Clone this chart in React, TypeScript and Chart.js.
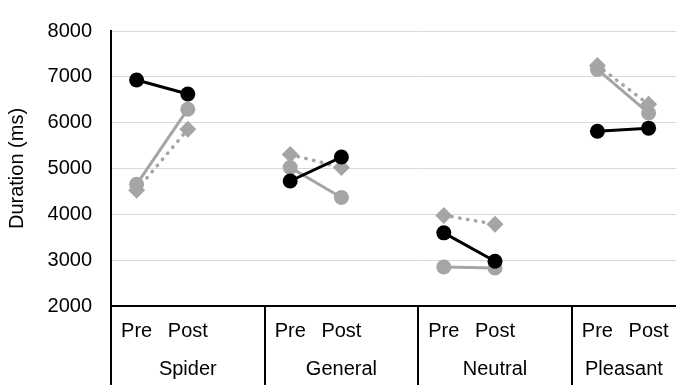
import { useEffect, useRef } from 'react';
import { Chart, registerables } from 'chart.js';

Chart.register(...registerables);

const groups = ['Spider', 'General', 'Neutral', 'Pleasant'];
const phases = ['Pre', 'Post'];
const seriesBlack = [6930, 6625, 4727, 5250, 3596, 2975, 5814, 5880];
const seriesGrayCircle = [4655, 6294, 5023, 4366, 2850, 2830, 7163, 6210];
const seriesGrayDiamond = [4528, 5856, 5305, 5023, 3977, 3786, 7248, 6400];
const yMin = 2000;
const yMax = 8000;
const yStep = 1000;
const yTitle = 'Duration (ms)';

const FONT = "'Liberation Sans', Arial, sans-serif";
const VIEW_W = 676;
const VIEW_H = 385;
const CANVAS_W = 740;

// each group: Pre, Post, then an empty gap slot
const labels: string[] = [];
groups.forEach(() => {
  phases.forEach((p) => labels.push(p));
  labels.push('');
});

function expand(values: number[]): (number | null)[] {
  const out: (number | null)[] = [];
  groups.forEach((_, g) => {
    phases.forEach((_, p) => out.push(values[g * phases.length + p]));
    out.push(null);
  });
  return out;
}

const categoryAxisPlugin = {
  id: 'categoryAxis',
  afterDraw(chart: any) {
    const { ctx, chartArea, scales } = chart;
    const { left, right, bottom } = chartArea;
    const x = scales.x;
    const slots = phases.length + 1;
    const half = (x.getPixelForValue(1) - x.getPixelForValue(0)) / 2;
    ctx.save();
    ctx.strokeStyle = '#000';
    ctx.lineWidth = 2;
    ctx.beginPath();
    ctx.moveTo(left - 1, bottom);
    ctx.lineTo(right, bottom);
    ctx.stroke();
    for (let g = 0; g <= groups.length; g++) {
      const bx = Math.round(x.getPixelForValue(g * slots) - half);
      const px = g === groups.length ? Math.round(x.getPixelForValue(g * slots - 1) + half) : bx;
      ctx.beginPath();
      ctx.moveTo(px, bottom);
      ctx.lineTo(px, chart.height);
      ctx.stroke();
    }
    ctx.fillStyle = '#000';
    ctx.font = `20px ${FONT}`;
    ctx.textAlign = 'center';
    ctx.textBaseline = 'middle';
    groups.forEach((name, g) => {
      phases.forEach((p, i) => {
        ctx.fillText(p, x.getPixelForValue(g * slots + i), bottom + 25);
      });
      const start = x.getPixelForValue(g * slots) - half;
      const end = Math.min(x.getPixelForValue(g * slots + slots - 1) + half, VIEW_W);
      ctx.fillText(name, (start + end) / 2, bottom + 63);
    });
    ctx.restore();
  },
};

export default function App() {
  const ref = useRef<HTMLCanvasElement | null>(null);
  useEffect(() => {
    if (!ref.current) return;
    const chart = new Chart(ref.current, {
      type: 'line',
      data: {
        labels,
        datasets: [
          {
            label: 'Black',
            data: expand(seriesBlack),
            borderColor: '#000',
            backgroundColor: '#000',
            borderWidth: 3,
            pointStyle: 'circle',
            pointRadius: 7.5,
            pointBorderWidth: 0,
            spanGaps: false,
          },
          {
            label: 'Gray',
            data: expand(seriesGrayCircle),
            borderColor: '#a5a5a5',
            backgroundColor: '#a5a5a5',
            borderWidth: 3,
            pointStyle: 'circle',
            pointRadius: 7.5,
            pointBorderWidth: 0,
            spanGaps: false,
          },
          {
            label: 'Gray dotted',
            data: expand(seriesGrayDiamond),
            borderColor: '#a5a5a5',
            backgroundColor: '#a5a5a5',
            borderWidth: 3.5,
            borderDash: [0.5, 7.5],
            borderCapStyle: 'round',
            pointStyle: 'rectRot',
            pointRadius: 8.5,
            pointBorderWidth: 0,
            spanGaps: false,
          },
        ],
      },
      options: {
        responsive: false,
        animation: false,
        devicePixelRatio: 1,
        layout: { padding: { top: 23, bottom: VIEW_H - 306, right: CANVAS_W - 725.4, left: 0 } },
        plugins: { legend: { display: false }, tooltip: { enabled: false } },
        scales: {
          x: { type: 'category', display: false, offset: true },
          y: {
            min: yMin,
            max: yMax,
            ticks: {
              stepSize: yStep,
              color: '#000',
              font: { size: 20, family: FONT },
              padding: 19,
              callback: (v: any) => String(v),
            },
            grid: { color: '#d9d9d9', lineWidth: 1, drawTicks: false },
            border: { display: true, color: '#000', width: 2 },
            title: {
              display: true,
              text: yTitle,
              color: '#000',
              font: { size: 20, family: FONT },
              padding: { top: 5.5, bottom: 0 },
            },
            afterFit: (s: any) => {
              s.width = 111;
            },
          },
        },
      } as any,
      plugins: [categoryAxisPlugin],
    });
    return () => chart.destroy();
  }, []);
  return (
    <div style={{ position: 'fixed', left: 0, top: 0, width: VIEW_W, height: VIEW_H, overflow: 'hidden', background: '#fff' }}>
      <canvas ref={ref} width={CANVAS_W} height={VIEW_H} style={{ display: 'block' }} />
    </div>
  );
}
